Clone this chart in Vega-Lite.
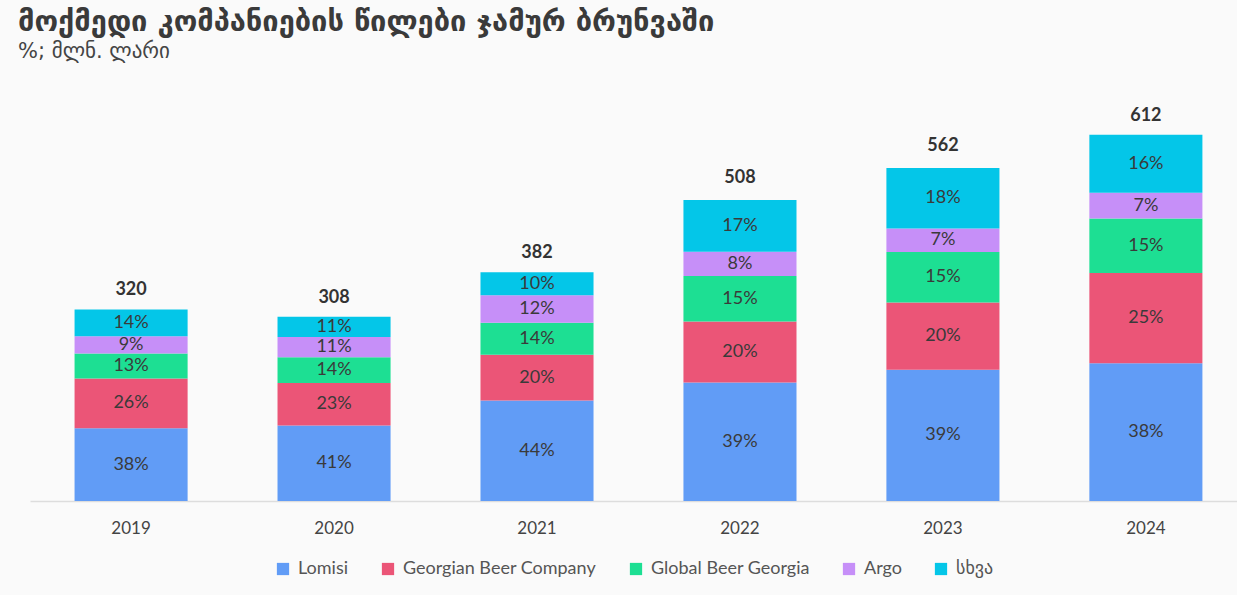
{
  "$schema": "https://vega.github.io/schema/vega-lite/v6.json",
  "autosize": {"type": "none"},
  "width": 1207,
  "height": 419,
  "padding": {"left": 30, "top": 82, "right": 0, "bottom": 94},
  "background": "#fafafa",
  "config": {
    "font": "Lato, DejaVu Sans",
    "view": {"stroke": null},
    "legend": {"layout": {"bottom": {"anchor": "middle"}}}
  },
  "title": {
    "text": "მოქმედი კომპანიების წილები ჯამურ ბრუნვაში",
    "subtitle": "%; მლნ. ლარი",
    "anchor": "start",
    "frame": "group",
    "dx": -12,
    "offset": 20,
    "font": "DejaVu Sans",
    "fontSize": 29,
    "fontWeight": "bold",
    "color": "#3a3a3a",
    "subtitleFont": "DejaVu Sans",
    "subtitleFontSize": 21,
    "subtitleColor": "#444444",
    "subtitlePadding": 4
  },
  "datasets": {
    "shares": [
      {"year": "2019", "company": "Lomisi", "pct": 0.38, "value": 121.6},
      {"year": "2019", "company": "Georgian Beer Company", "pct": 0.26, "value": 83.2},
      {"year": "2019", "company": "Global Beer Georgia", "pct": 0.13, "value": 41.6},
      {"year": "2019", "company": "Argo", "pct": 0.09, "value": 28.8},
      {"year": "2019", "company": "სხვა", "pct": 0.14, "value": 44.8},
      {"year": "2020", "company": "Lomisi", "pct": 0.41, "value": 126.3},
      {"year": "2020", "company": "Georgian Beer Company", "pct": 0.23, "value": 70.8},
      {"year": "2020", "company": "Global Beer Georgia", "pct": 0.14, "value": 43.1},
      {"year": "2020", "company": "Argo", "pct": 0.11, "value": 33.9},
      {"year": "2020", "company": "სხვა", "pct": 0.11, "value": 33.9},
      {"year": "2021", "company": "Lomisi", "pct": 0.44, "value": 168.1},
      {"year": "2021", "company": "Georgian Beer Company", "pct": 0.20, "value": 76.4},
      {"year": "2021", "company": "Global Beer Georgia", "pct": 0.14, "value": 53.5},
      {"year": "2021", "company": "Argo", "pct": 0.12, "value": 45.8},
      {"year": "2021", "company": "სხვა", "pct": 0.10, "value": 38.2},
      {"year": "2022", "company": "Lomisi", "pct": 0.39, "value": 198.1},
      {"year": "2022", "company": "Georgian Beer Company", "pct": 0.20, "value": 101.6},
      {"year": "2022", "company": "Global Beer Georgia", "pct": 0.15, "value": 76.2},
      {"year": "2022", "company": "Argo", "pct": 0.08, "value": 40.6},
      {"year": "2022", "company": "სხვა", "pct": 0.17, "value": 86.4},
      {"year": "2023", "company": "Lomisi", "pct": 0.39, "value": 219.2},
      {"year": "2023", "company": "Georgian Beer Company", "pct": 0.20, "value": 112.4},
      {"year": "2023", "company": "Global Beer Georgia", "pct": 0.15, "value": 84.3},
      {"year": "2023", "company": "Argo", "pct": 0.07, "value": 39.3},
      {"year": "2023", "company": "სხვა", "pct": 0.18, "value": 101.2},
      {"year": "2024", "company": "Lomisi", "pct": 0.38, "value": 230.0},
      {"year": "2024", "company": "Georgian Beer Company", "pct": 0.25, "value": 151.0},
      {"year": "2024", "company": "Global Beer Georgia", "pct": 0.15, "value": 91.0},
      {"year": "2024", "company": "Argo", "pct": 0.07, "value": 43.0},
      {"year": "2024", "company": "სხვა", "pct": 0.16, "value": 97.0}
    ],
    "totals": [
      {"year": "2019", "total": 320},
      {"year": "2020", "total": 308},
      {"year": "2021", "total": 382},
      {"year": "2022", "total": 508},
      {"year": "2023", "total": 562},
      {"year": "2024", "total": 612}
    ]
  },
  "encoding": {
    "x": {
      "field": "year",
      "type": "ordinal",
      "title": null,
      "scale": {"paddingInner": 0.443, "paddingOuter": 0.195, "align": 0.563},
      "axis": {
        "labelAngle": 0,
        "labelFontSize": 17,
        "labelColor": "#444444",
        "labelPadding": 19,
        "ticks": false,
        "domainColor": "#dddddd",
        "domainWidth": 1.5
      }
    }
  },
  "layer": [
    {
      "data": {"name": "shares"},
      "transform": [
        {"calculate": "indexof(['Lomisi', 'Georgian Beer Company', 'Global Beer Georgia', 'Argo', 'სხვა'], datum.company)", "as": "rank"},
        {"stack": "value", "groupby": ["year"], "sort": [{"field": "rank", "order": "ascending"}], "as": ["y0", "y1"]},
        {"calculate": "(datum.y0 + datum.y1) / 2", "as": "mid"}
      ],
      "layer": [
        {
          "mark": {"type": "bar"},
          "encoding": {
            "y": {"field": "y1", "type": "quantitative", "scale": {"domain": [0, 700]}, "axis": null},
            "y2": {"field": "y0"},
            "color": {
              "field": "company",
              "type": "nominal",
              "title": null,
              "scale": {
                "domain": ["Lomisi", "Georgian Beer Company", "Global Beer Georgia", "Argo", "სხვა"],
                "range": ["#619cf6", "#eb5577", "#1ddf93", "#c68ff8", "#04c6e8"]
              },
              "legend": {
                "orient": "bottom",
                "direction": "horizontal",
                "symbolType": "square",
                "symbolSize": 150,
                "symbolStrokeWidth": 0,
                "labelFontSize": 18,
                "labelColor": "#555555",
                "labelLimit": 400,
                "columnPadding": 30,
                "labelOffset": 6,
                "offset": 24
              }
            }
          }
        },
        {
          "mark": {"type": "text", "fontSize": 18, "color": "#3a3a3a", "baseline": "middle"},
          "encoding": {
            "y": {"field": "mid", "type": "quantitative"},
            "text": {"field": "pct", "type": "quantitative", "format": ".0%"}
          }
        }
      ]
    },
    {
      "data": {"name": "totals"},
      "mark": {"type": "text", "fontSize": 18, "fontWeight": "bold", "color": "#333333", "baseline": "bottom", "dy": -10},
      "encoding": {
        "y": {"field": "total", "type": "quantitative"},
        "text": {"field": "total", "type": "quantitative"}
      }
    }
  ]
}
